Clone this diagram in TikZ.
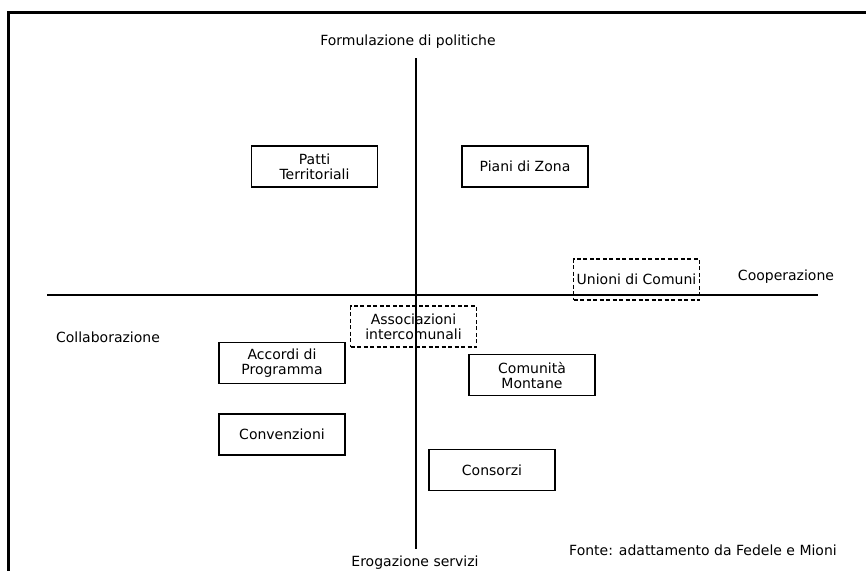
\documentclass[tikz,border=0pt]{standalone}
\usepackage{fontspec}
\setmainfont{DejaVu Sans}
\begin{document}
\begin{tikzpicture}[x=1pt,y=-1pt,
  every node/.style={font=\fontsize{14}{15}\selectfont, inner sep=0pt},
  box/.style={draw, line width=1.4pt, minimum width=126pt, minimum height=41pt, align=center},
  dbox/.style={box, dash pattern=on 4pt off 2.5pt},
  axisline/.style={line width=1.6pt},
  frameline/.style={line width=2.2pt}]
\useasboundingbox (0,0) rectangle (866,571);

% outer frame (top and left edges)
\coordinate (fr) at (866,12.5);
\coordinate (fc) at (8.5,12.5);
\coordinate (fb) at (8.5,571);
\draw[frameline] (fr) -- (fc) -- (fb);

% axes
\coordinate (ytop) at (416,58);
\coordinate (ybot) at (416,549);
\coordinate (xl) at (47,295);
\coordinate (xr) at (818,295);
\draw[axisline] (xl) -- (xr);
\draw[axisline] (ytop) -- (ybot);

% axis labels
\node (formul) at (408,42) {Formulazione di politiche};
\node (erog) at (415,563) {Erogazione servizi};
\node (coop) at (786,277) {Cooperazione};
\node (collab) at (108,337) {Collaborazione};
\node (fonte) at (703,550) {Fonte: adattamento da Fedele e Mioni};

% forms of intermunicipal cooperation
\node[box] (patti) at (314.5,166.5) {Patti\\Territoriali};
\node[box] (piani) at (525,166.5) {Piani di Zona};
\node[dbox] (unioni) at (636.5,279.5) {Unioni di Comuni};
\node[dbox] (assoc) at (413.5,326.5) {Associazioni\\intercomunali};
\node[box] (accordi) at (282,363) {Accordi di\\Programma};
\node[box] (comunita) at (532,375) {Comunità\\Montane};
\node[box] (conv) at (282,434.5) {Convenzioni};
\node[box] (consorzi) at (492,470) {Consorzi};
\end{tikzpicture}
\end{document}
